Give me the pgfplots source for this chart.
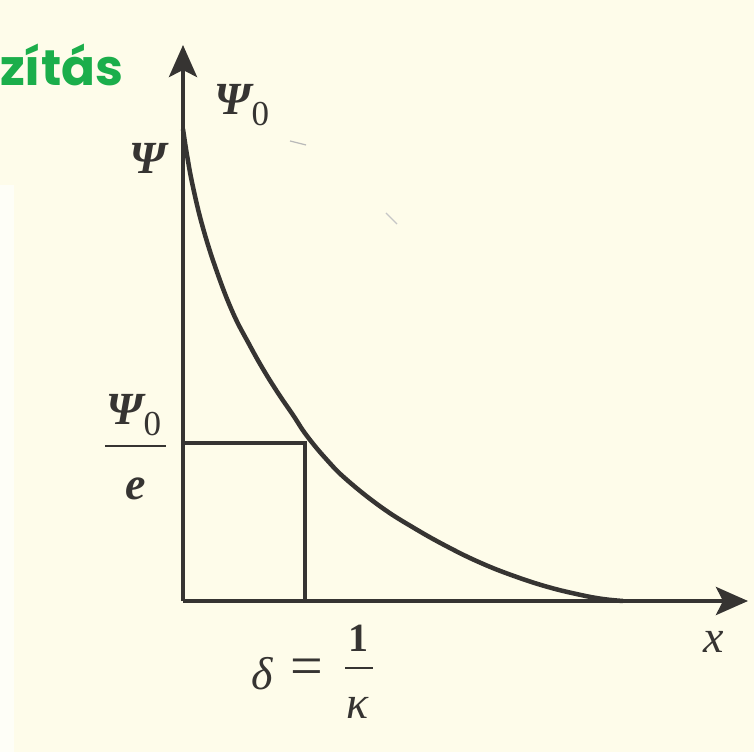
\documentclass[border=0pt]{standalone}
\usepackage{fontspec}
\setmainfont{Liberation Serif}
\newfontfamily\headfont{Poppins}
\usepackage{pgfplots}
\pgfplotsset{compat=1.18}
\usetikzlibrary{arrows.meta}

\definecolor{paper}{HTML}{FEFCEA}
\definecolor{ink}{HTML}{363432}
\definecolor{headgreen}{HTML}{1BAE4B}

% bold italic capital psi
\newcommand{\Psib}{{\fontsize{46}{50}\selectfont\bfseries\itshape Ψ}}
\newcommand{\Psinull}{\Psib\raisebox{-0.25em}{\fontsize{35}{37}\selectfont 0}}

\tikzset{lbl/.style={inner sep=0pt, text=ink,
    font=\fontsize{46}{50}\selectfont}}

\begin{document}
\begin{tikzpicture}[x=1pt,y=1pt]
\useasboundingbox (0,0) rectangle (754,752);
\clip (0,0) rectangle (754,752);
\fill[paper] (0,0) rectangle (754,752);
\fill[white!60!paper] (0,0) rectangle (14,567);

% heading fragment
\node[anchor=base west, inner sep=0pt, text=headgreen,
      font=\headfont\bfseries\fontsize{50}{56}\selectfont] at (0,666) {zítás};

% small print marks
\draw[gray!55, line width=1.2pt] (290,611) -- (306,607);
\draw[gray!45, line width=1.2pt] (386,539) -- (397,528);

\begin{axis}[
  at={(183,151)}, anchor=origin,
  x=1pt, y=1pt,
  xmin=0, xmax=565, ymin=0, ymax=556,
  axis lines=left,
  xtick=\empty, ytick=\empty,
  clip=false,
  axis line style={ink, line width=4.2pt,
    -{Stealth[length=32pt, width=28pt, inset=7pt]}},
]
% decaying wave function
\addplot[ink, line width=4.5pt, smooth, tension=0.7] coordinates {
  (0,472) (4,446) (10,414) (20,373) (34,329) (50,288) (66,257)
  (80,232) (95,208) (110,186) (124,165) (144,141) (164,121)
  (198,94) (231,73) (265,54) (298,38) (331,25) (365,14)
  (398,6) (420,2) (440,0)
};
% penetration depth: value Psi0/e at x = delta
\addplot[ink, line width=4pt] coordinates {(0,158) (122,158) (122,0)};

% labels
\node[lbl] at (axis cs:59,496) {\Psinull};
\node[lbl] at (axis cs:-35,443) {\Psib};
\node[lbl] at (axis cs:-49,186) {\Psinull};
\draw[ink, line width=2pt] (axis cs:-78,155) -- (axis cs:-17,155);
\node[lbl] at (axis cs:-47,112) {\bfseries\itshape e};
\node[lbl] at (axis cs:79,-73) {\itshape δ};
\node[lbl, font=\fontsize{58}{60}\selectfont] at (axis cs:124,-71) {=};
\node[lbl, font=\fontsize{40}{44}\selectfont\bfseries] at (axis cs:175,-37) {1};
\draw[ink, line width=2pt] (axis cs:162,-67) -- (axis cs:190,-67);
\node[lbl] at (axis cs:175,-107) {\itshape κ};
\node[lbl] at (axis cs:531,-41) {\itshape x};
\end{axis}
\end{tikzpicture}
\end{document}
